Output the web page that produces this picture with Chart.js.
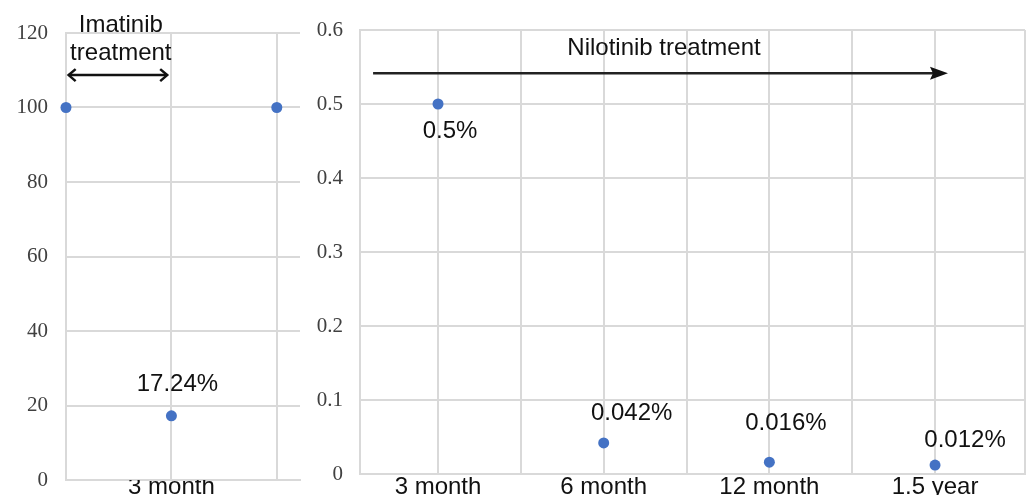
<!DOCTYPE html>
<html>
<head>
<meta charset="utf-8">
<script src="https://cdn.jsdelivr.net/npm/chart.js@4/dist/chart.umd.min.js"></script>
<style>
  html, body { margin: 0; padding: 0; background: #fff; }
  body { width: 1032px; height: 495px; position: relative; overflow: hidden; }
  canvas { position: absolute; top: 0; }
  #left { left: 0; }
  #right { left: 305px; }
</style>
</head>
<body>
<canvas id="left" width="310" height="495"></canvas>
<canvas id="right" width="727" height="495"></canvas>
<script>
// ---- Data ----
const leftCategories = ['', '3 month', ''];
const leftValues = [100, 17.24, 100];
const leftPointLabels = ['', '17.24%', ''];
const leftYTicks = [0, 20, 40, 60, 80, 100, 120];

const rightCategories = ['3 month', '6 month', '12 month', '1.5 year'];
const rightValues = [0.5, 0.042, 0.016, 0.012];
const rightPointLabels = ['0.5%', '0.042%', '0.016%', '0.012%'];
const rightYTicks = [0, 0.1, 0.2, 0.3, 0.4, 0.5, 0.6];

const leftAnnotation = ['Imatinib', 'treatment'];
const rightAnnotation = 'Nilotinib treatment';

// ---- Styles ----
const GRID = '#d9d9d9';
const BLUE = '#4472c4';
const SANS = "'Liberation Sans', Arial, sans-serif";
const SERIF = "'Liberation Serif', 'Times New Roman', serif";
Chart.defaults.font.family = SANS;

function pointLabelPlugin(id, texts, offsets) {
  return {
    id: id,
    afterDatasetsDraw(chart) {
      const ctx = chart.ctx;
      const meta = chart.getDatasetMeta(0);
      ctx.save();
      ctx.font = '24px ' + SANS;
      ctx.fillStyle = '#111';
      ctx.textAlign = 'center';
      ctx.textBaseline = 'middle';
      meta.data.forEach((pt, i) => {
        if (!texts[i]) return;
        const o = offsets[i];
        ctx.fillText(texts[i], pt.x + o[0], pt.y + o[1]);
      });
      ctx.restore();
    }
  };
}

function drawOpenHead(ctx, x, y, dir) {
  ctx.beginPath();
  ctx.moveTo(x - dir * 7, y - 6);
  ctx.lineTo(x, y);
  ctx.lineTo(x - dir * 7, y + 6);
  ctx.stroke();
}

const leftAnnotPlugin = {
  id: 'leftAnnot',
  afterDraw(chart) {
    const ctx = chart.ctx, xs = chart.scales.x, ys = chart.scales.y;
    ctx.save();
    ctx.font = '24px ' + SANS;
    ctx.fillStyle = '#111';
    ctx.textAlign = 'center';
    ctx.textBaseline = 'alphabetic';
    ctx.fillText(leftAnnotation[0], xs.getPixelForValue(0.52), ys.getPixelForValue(120.3));
    ctx.fillText(leftAnnotation[1], xs.getPixelForValue(0.52), ys.getPixelForValue(112.8));
    const x1 = xs.getPixelForValue(0.025), x2 = xs.getPixelForValue(0.96), y = ys.getPixelForValue(108.7);
    ctx.strokeStyle = '#111';
    ctx.lineWidth = 2.5;
    ctx.beginPath(); ctx.moveTo(x1, y); ctx.lineTo(x2, y); ctx.stroke();
    drawOpenHead(ctx, x1, y, -1);
    drawOpenHead(ctx, x2, y, 1);
    ctx.restore();
  }
};

const rightAnnotPlugin = {
  id: 'rightAnnot',
  afterDraw(chart) {
    const ctx = chart.ctx, xs = chart.scales.x, ys = chart.scales.y;
    ctx.save();
    ctx.font = '24px ' + SANS;
    ctx.fillStyle = '#111';
    ctx.textAlign = 'center';
    ctx.textBaseline = 'alphabetic';
    ctx.fillText(rightAnnotation, xs.getPixelForValue(2.364), ys.getPixelForValue(0.566));
    const x1 = xs.getPixelForValue(0.608), x2 = xs.getPixelForValue(4.078), y = ys.getPixelForValue(0.5415);
    ctx.strokeStyle = '#222';
    ctx.lineWidth = 2.5;
    ctx.beginPath(); ctx.moveTo(x1, y); ctx.lineTo(x2 - 14, y); ctx.stroke();
    ctx.fillStyle = '#111';
    ctx.beginPath();
    ctx.moveTo(x2, y);
    ctx.lineTo(x2 - 18, y - 6.5);
    ctx.lineTo(x2 - 15, y);
    ctx.lineTo(x2 - 18, y + 6.5);
    ctx.closePath();
    ctx.fill();
    ctx.restore();
  }
};

const commonGrid = { color: GRID, lineWidth: 2, drawTicks: false };
const commonBorder = { color: GRID, width: 2 };
const zeroPad = s => { s.paddingTop = 0; s.paddingBottom = 0; s.paddingLeft = 0; s.paddingRight = 0; };

new Chart(document.getElementById('left'), {
  type: 'scatter',
  data: {
    datasets: [{
      data: leftValues.map((v, i) => ({ x: i, y: v })),
      backgroundColor: BLUE, borderColor: BLUE, clip: false,
      pointRadius: 5.5, pointHoverRadius: 5.5, borderWidth: 0
    }]
  },
  options: {
    responsive: false, animation: false, devicePixelRatio: 1,
    layout: { padding: { top: 33, right: 10, left: 0, bottom: 0 } },
    plugins: { legend: { display: false }, tooltip: { enabled: false } },
    scales: {
      x: {
        type: 'linear', min: 0, max: 2.22,
        afterBuildTicks: s => { s.ticks = leftCategories.map((c, i) => ({ value: i })); },
        afterFit: s => { s.height = 15; zeroPad(s); },
        grid: commonGrid, border: commonBorder,
        ticks: {
          autoSkip: false, maxRotation: 0, padding: -7, color: '#111',
          font: { size: 24, family: SANS },
          callback: v => leftCategories[v] ?? ''
        }
      },
      y: {
        min: 0, max: 120,
        afterBuildTicks: s => { s.ticks = leftYTicks.map(v => ({ value: v })); },
        afterFit: s => { s.width = 66; zeroPad(s); },
        grid: commonGrid, border: commonBorder,
        ticks: { padding: 18, color: '#404040', font: { size: 21, family: SERIF } }
      }
    }
  },
  plugins: [pointLabelPlugin('leftLabels', leftPointLabels, [[0,0],[6,-31],[0,0]]), leftAnnotPlugin]
});

const rightMin = 0.529, rightMax = 4.543;
new Chart(document.getElementById('right'), {
  type: 'scatter',
  data: {
    datasets: [{
      data: rightValues.map((v, i) => ({ x: i + 1, y: v })),
      backgroundColor: BLUE, borderColor: BLUE, clip: false,
      pointRadius: 5.5, pointHoverRadius: 5.5, borderWidth: 0
    }]
  },
  options: {
    responsive: false, animation: false, devicePixelRatio: 1,
    layout: { padding: { top: 30, right: 7, left: 0, bottom: 0 } },
    plugins: { legend: { display: false }, tooltip: { enabled: false } },
    scales: {
      x: {
        type: 'linear', min: rightMin, max: rightMax,
        afterBuildTicks: s => {
          const t = [rightMin];
          rightCategories.forEach((c, i) => { t.push(i + 1); if (i < rightCategories.length - 1) t.push(i + 1.5); });
          t.push(rightMax);
          s.ticks = t.map(v => ({ value: v }));
        },
        afterFit: s => { s.height = 21; zeroPad(s); },
        grid: commonGrid, border: commonBorder,
        ticks: {
          autoSkip: false, maxRotation: 0, padding: -1, color: '#111',
          font: { size: 24, family: SANS },
          callback: v => Number.isInteger(v) ? (rightCategories[v - 1] ?? '') : ''
        }
      },
      y: {
        min: 0, max: 0.6,
        afterBuildTicks: s => { s.ticks = rightYTicks.map(v => ({ value: v })); },
        afterFit: s => { s.width = 55; zeroPad(s); },
        grid: commonGrid, border: commonBorder,
        ticks: { padding: 17, color: '#404040', font: { size: 21, family: SERIF },
          callback: v => String(Math.round(v * 10) / 10) }
      }
    }
  },
  plugins: [pointLabelPlugin('rightLabels', rightPointLabels, [[12,27],[28,-30],[16.5,-38.5],[30,-25]]), rightAnnotPlugin]
});
</script>
</body>
</html>
